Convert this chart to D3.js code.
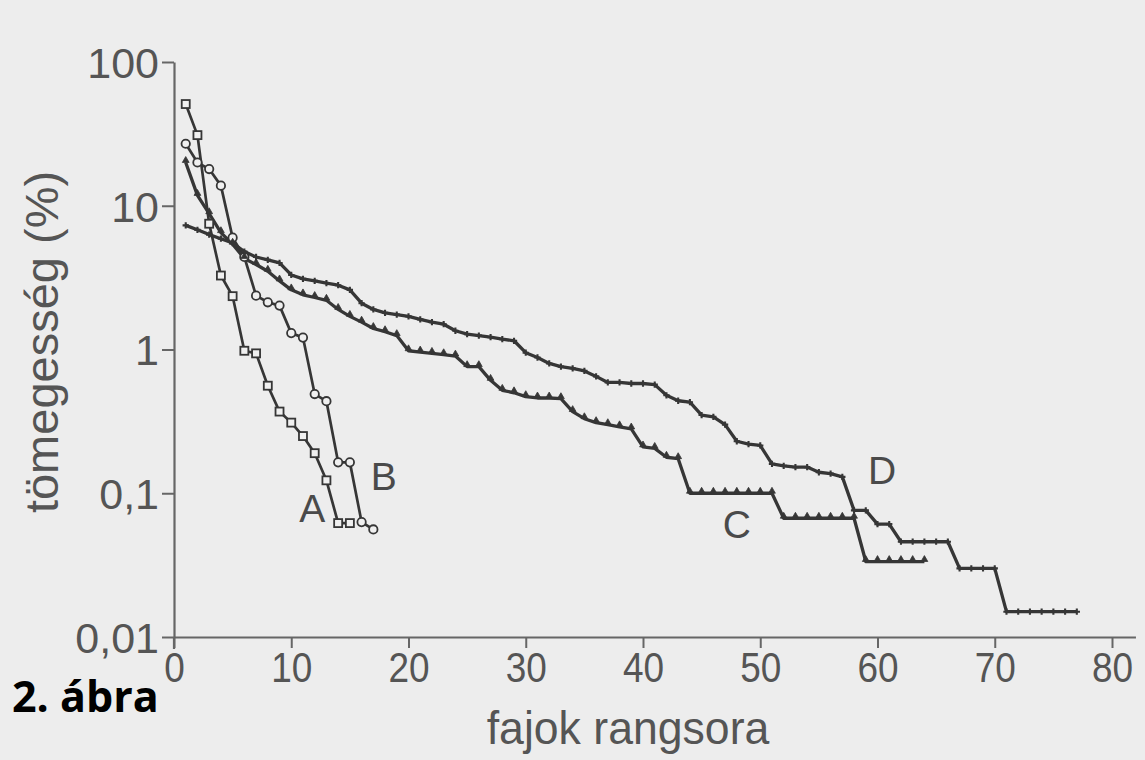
<!DOCTYPE html>
<html><head><meta charset="utf-8">
<script src="https://cdn.jsdelivr.net/npm/d3@7"></script>
<style>
html,body{margin:0;padding:0;background:#ededed;}
svg{display:block;}
</style></head>
<body>
<svg id="chart" width="1145" height="760"></svg>
<script>
// ---- data (relative abundance %, by species rank) ----
const seriesA = [51, 31, 7.5, 3.27, 2.35, 0.98, 0.94, 0.56, 0.37, 0.31, 0.25, 0.19, 0.123, 0.062, 0.062];
const seriesB = [27, 20, 18, 13.8, 6.0, 4.4, 2.37, 2.13, 2.02, 1.30, 1.21, 0.49, 0.437, 0.164, 0.164, 0.063, 0.056];
const seriesC = [20, 11.8, 8.8, 6.5, 5.4, 4.3, 3.9, 3.5, 3.0, 2.6, 2.4, 2.3, 2.2, 1.9, 1.7, 1.55, 1.4, 1.33, 1.25, 0.98,
  0.96, 0.94, 0.92, 0.9, 0.76, 0.76, 0.61, 0.52, 0.5, 0.47, 0.46, 0.46, 0.455, 0.37, 0.33, 0.31, 0.3, 0.29, 0.28, 0.21,
  0.205, 0.178, 0.174, 0.1, 0.1, 0.1, 0.1, 0.1, 0.1, 0.1, 0.1, 0.067, 0.067, 0.067, 0.067, 0.067, 0.067, 0.067,
  0.0335, 0.0335, 0.0335, 0.0335, 0.0335, 0.0335];
const seriesD = [7.3, 6.8, 6.3, 5.9, 5.5, 4.8, 4.4, 4.2, 4.0, 3.3, 3.1, 3.0, 2.9, 2.8, 2.6, 2.1, 1.9, 1.8, 1.75, 1.7,
  1.62, 1.55, 1.5, 1.35, 1.28, 1.25, 1.22, 1.18, 1.15, 0.95, 0.88, 0.8, 0.76, 0.74, 0.71, 0.65, 0.59, 0.59, 0.58, 0.58,
  0.57, 0.48, 0.44, 0.43, 0.35, 0.34, 0.3, 0.23, 0.22, 0.215, 0.16, 0.155, 0.152, 0.152, 0.14, 0.137, 0.13, 0.076, 0.076, 0.061,
  0.061, 0.046, 0.046, 0.046, 0.046, 0.046, 0.030, 0.030, 0.030, 0.030, 0.015, 0.015, 0.015, 0.015, 0.015, 0.015, 0.015];
const seriesNames = ["A", "B", "C", "D"];
const xTicks = [0, 10, 20, 30, 40, 50, 60, 70, 80];
const yTicks = [0.01, 0.1, 1, 10, 100];
const yTickLabels = ["0,01", "0,1", "1", "10", "100"];
const xTitle = "fajok rangsora";
const yTitle = "tömegesség (%)";
const figLabel = "2. ábra";

// ---- chart ----
const svg = d3.select("#chart");
const ink = "#363636", axisInk = "#666", textInk = "#555";
const font = "Liberation Sans, Arial, sans-serif";
svg.append("rect").attr("width",1145).attr("height",760).attr("fill","#ededed");

const x = d3.scaleLinear().domain([0, 82]).range([174, 174 + 82*11.725]);
const y = d3.scaleLog().domain([0.01, 100]).range([637, 62]);

// x axis
const gx = svg.append("g").attr("transform", "translate(0,637)")
  .call(d3.axisBottom(x).tickValues(xTicks).tickFormat(d3.format("d")).tickSize(11).tickSizeOuter(0).tickPadding(3));
gx.select(".domain").attr("stroke", axisInk).attr("stroke-width", 2.2);
gx.selectAll(".tick line").attr("stroke", axisInk).attr("stroke-width", 2);
gx.selectAll(".tick text").attr("fill", textInk).attr("font-family", font)
  .attr("font-size", 43).attr("dy", "0.72em")
  .style("transform", "scaleX(0.86)").style("transform-box","fill-box").style("transform-origin","center");

// y axis
const gy = svg.append("g").attr("transform", "translate(174,0)")
  .call(d3.axisLeft(y).tickValues(yTicks).tickFormat((d,i)=>yTickLabels[i]).tickSize(12).tickSizeOuter(0).tickPadding(3));
gy.select(".domain").attr("stroke", axisInk).attr("stroke-width", 2.2);
gy.selectAll(".tick line").attr("stroke", axisInk).attr("stroke-width", 2);
gy.selectAll(".tick text").attr("fill", textInk).attr("font-family", font)
  .attr("font-size", 43).attr("dy", "0.36em");
// y axis continues a little below the x axis (as in the original)
svg.append("line").attr("x1",174).attr("x2",174).attr("y1",y(0.01)).attr("y2",y(0.01)+12)
  .attr("stroke",axisInk).attr("stroke-width",2.2);

// titles
svg.append("text").attr("x", 628).attr("y", 744).attr("text-anchor","middle")
  .attr("font-family",font).attr("font-size",46).attr("fill",textInk)
  .style("transform","scaleX(0.97)").style("transform-box","fill-box").style("transform-origin","center")
  .text(xTitle);
svg.append("text").attr("transform","translate(58,342) rotate(-90)").attr("text-anchor","middle")
  .attr("font-family",font).attr("font-size",47).attr("fill",textInk)
  .text(yTitle);
svg.append("text").attr("x", 12).attr("y", 712)
  .attr("font-family","Open Sans, Liberation Sans, sans-serif").attr("font-weight",700).attr("font-size",43).attr("fill","#000")
  .text(figLabel);

// series
const allSeries = [seriesA, seriesB, seriesC, seriesD];
const line = d3.line().x((d,i)=>x(i+1)).y(d=>y(d));
const plot = svg.append("g");
allSeries.forEach((s, k) => {
  plot.append("path").datum(s).attr("d", line).attr("fill","none")
    .attr("stroke", ink).attr("stroke-width", k < 2 ? 2.7 : 3.3).attr("stroke-linejoin","round");
});
// markers A: squares
plot.selectAll(".mA").data(seriesA).join("rect").attr("class","mA")
  .attr("x",(d,i)=>x(i+1)-4).attr("y",d=>y(d)-4).attr("width",8).attr("height",8)
  .attr("fill","#f0f0f0").attr("stroke",ink).attr("stroke-width",1.8);
// markers B: circles
plot.selectAll(".mB").data(seriesB).join("circle").attr("class","mB")
  .attr("cx",(d,i)=>x(i+1)).attr("cy",d=>y(d)).attr("r",4.2)
  .attr("fill","#f0f0f0").attr("stroke",ink).attr("stroke-width",1.8);
// markers C: small triangles
const tri = d3.symbol().type(d3.symbolTriangle).size(20);
plot.selectAll(".mC").data(seriesC).join("path").attr("class","mC")
  .attr("transform",(d,i)=>`translate(${x(i+1)},${y(d)-2})`).attr("d",tri)
  .attr("fill",ink).attr("stroke",ink).attr("stroke-width",0.8);
// markers D: small crosses
const crs = d3.symbol().type(d3.symbolCross).size(22);
plot.selectAll(".mD").data(seriesD).join("path").attr("class","mD")
  .attr("transform",(d,i)=>`translate(${x(i+1)},${y(d)})`).attr("d",crs)
  .attr("fill",ink);

// series labels
const lab = [{n:"A", r:11.8, v:0.063}, {n:"B", r:17.9, v:0.105},
             {n:"C", r:48.0, v:0.049}, {n:"D", r:60.4, v:0.116}];
svg.selectAll(".slab").data(lab).join("text").attr("class","slab")
  .attr("x", d=>x(d.r)).attr("y", d=>y(d.v)).attr("text-anchor","middle")
  .attr("font-family",font).attr("font-size",39).attr("fill","#4a4a4a")
  .text(d=>d.n);
</script>
</body></html>
